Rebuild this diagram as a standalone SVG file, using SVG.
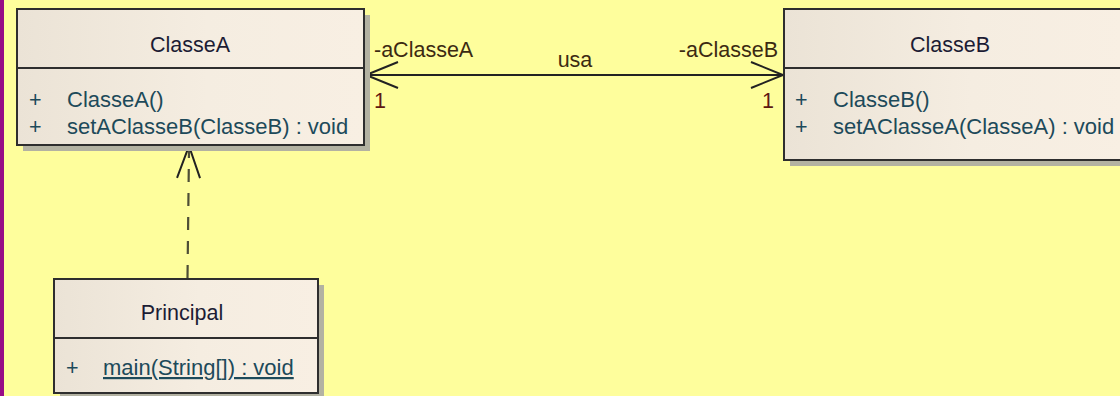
<svg xmlns="http://www.w3.org/2000/svg" width="1120" height="396" viewBox="0 0 1120 396">
  <style>
    .box { fill: url(#classFill); stroke: #2e2e2e; stroke-width: 2; }
    .shadow { fill: #b3b2a2; }
    .divider { stroke: #2e2e2e; stroke-width: 2; }
    text { font-family: "Liberation Sans", Arial, sans-serif; font-size: 21.5px; }
    .title { fill: #1c1c34; text-anchor: middle; }
    .member { fill: #1d4a5a; font-size: 22px; }
    .vis { fill: #1d4a5a; }
    .role { fill: #3c2a12; }
    .mult { fill: #5e1812; }
    .assoc { stroke: #222; stroke-width: 2; fill: none; }
    .dep { stroke: #4e4e36; stroke-width: 2.2; fill: none; stroke-dasharray: 13 11; }
  </style>
  <defs>
    <linearGradient id="classFill" x1="0" y1="0" x2="1" y2="0">
      <stop offset="0" stop-color="#ebe3d6"/>
      <stop offset="0.55" stop-color="#f5ede1"/>
      <stop offset="1" stop-color="#f8efe3"/>
    </linearGradient>
    <marker id="openArrow" markerUnits="userSpaceOnUse" viewBox="-34 -15 36 30" refX="0" refY="0" markerWidth="36" markerHeight="30" orient="auto-start-reverse" overflow="visible">
      <path d="M-32,-13 L0,0 L-32,13" fill="none" stroke="#222" stroke-width="2"/>
    </marker>
    <marker id="depArrow" markerUnits="userSpaceOnUse" viewBox="-34 -15 36 30" refX="0" refY="0" markerWidth="36" markerHeight="30" orient="auto" overflow="visible">
      <path d="M-32,-11.5 L0,0 L-32,11.5" fill="none" stroke="#222" stroke-width="2"/>
    </marker>
  </defs>

  <!-- canvas -->
  <rect x="0" y="0" width="1120" height="396" fill="#fefe9c"/>
  <rect x="0" y="0" width="4" height="396" fill="#970d86"/>

  <!-- connectors -->
  <g id="connectors">
    <path class="assoc" d="M366,75 L783,75" marker-start="url(#openArrow)" marker-end="url(#openArrow)"/>
    <text class="role" x="374" y="57">-aClasseA</text>
    <text class="role" x="575" y="67" text-anchor="middle">usa</text>
    <text class="role" x="778" y="57" text-anchor="end">-aClasseB</text>
    <text class="mult" x="374" y="108">1</text>
    <text class="mult" x="774" y="108" text-anchor="end">1</text>
    <path class="dep" d="M187.5,278 L189,150"/>
    <path d="M188.5,180 L189,146" fill="none" stroke="none" marker-end="url(#depArrow)"/>
  </g>

  <!-- ClasseA -->
  <g id="ClasseA">
    <rect class="shadow" x="23" y="15" width="347" height="136"/>
    <rect class="box" x="17" y="9" width="347" height="136"/>
    <line class="divider" x1="17" y1="68" x2="364" y2="68"/>
    <text class="title" x="190" y="52">ClasseA</text>
    <text class="vis" x="29" y="107">+</text>
    <text class="member" x="67" y="107">ClasseA()</text>
    <text class="vis" x="29" y="134">+</text>
    <text class="member" x="67" y="134">setAClasseB(ClasseB) : void</text>
  </g>

  <!-- ClasseB -->
  <g id="ClasseB">
    <rect class="shadow" x="790" y="15" width="340" height="151"/>
    <rect class="box" x="784" y="9" width="340" height="151"/>
    <line class="divider" x1="784" y1="68" x2="1124" y2="68"/>
    <text class="title" x="950" y="52">ClasseB</text>
    <text class="vis" x="795" y="107">+</text>
    <text class="member" x="833" y="107">ClasseB()</text>
    <text class="vis" x="795" y="134">+</text>
    <text class="member" x="833" y="134">setAClasseA(ClasseA) : void</text>
  </g>

  <!-- Principal -->
  <g id="Principal">
    <rect class="shadow" x="60" y="285" width="264" height="114"/>
    <rect class="box" x="54" y="279" width="264" height="114"/>
    <line class="divider" x1="54" y1="338" x2="318" y2="338"/>
    <text class="title" x="182" y="320">Principal</text>
    <text class="vis" x="66" y="375">+</text>
    <text class="member" x="103" y="375" text-decoration="underline">main(String[]) : void</text>
  </g>
</svg>
